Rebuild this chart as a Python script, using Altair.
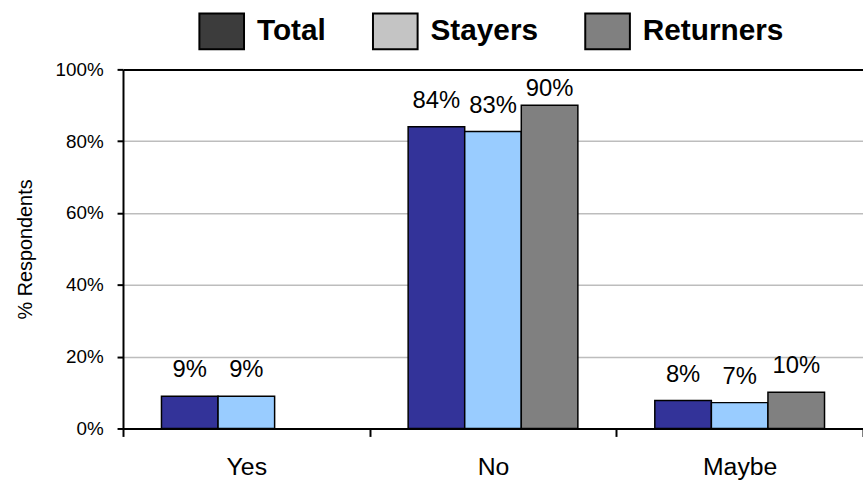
import altair as alt
import pandas as pd

categories = ["Yes", "No", "Maybe"]
series_names = ["Total", "Stayers", "Returners"]
total = [9.0, 84.0, 7.8]
stayers = [9.0, 82.7, 7.2]
returners = [None, 90.0, 10.1]
bar_colors = ["#333399", "#99CCFF", "#808080"]
legend_colors = ["#3C3C3C", "#C4C4C4", "#808080"]
y_ticks = [0, 0.2, 0.4, 0.6, 0.8, 1.0]

FONT = "Liberation Sans"

rows = []
for s, vals in zip(series_names, [total, stayers, returners]):
    for c, v in zip(categories, vals):
        if v is not None:
            rows.append({"answer": c, "series": s, "value": v})
df = pd.DataFrame(rows)

base = alt.Chart(df).transform_calculate(
    pct="datum.value / 100",
    label="format(datum.value, '.0f') + '%'",
)

x_enc = alt.X(
    "answer:N",
    sort=categories,
    scale=alt.Scale(paddingInner=0, paddingOuter=0),
    axis=alt.Axis(
        title=None,
        tickBand="extent",
        labelFontSize=25,
        labelFont=FONT,
        labelColor="black",
        labelPadding=18,
        labelAngle=0,
        tickSize=8,
        tickColor="black",
        tickWidth=2,
        domainColor="black",
        domainWidth=2,
        grid=False,
    ),
)
y_enc = alt.Y(
    "pct:Q",
    scale=alt.Scale(domain=[0, 1]),
    axis=alt.Axis(
        values=y_ticks,
        format="%",
        title="% Respondents",
        titleFont=FONT,
        titleFontSize=20,
        titleFontWeight="normal",
        titleColor="black",
        titlePadding=20,
        labelFont=FONT,
        labelFontSize=19,
        labelColor="black",
        labelPadding=14,
        tickSize=6,
        tickColor="black",
        tickWidth=2,
        domainColor="black",
        domainWidth=2,
        grid=True,
        gridColor={"condition": {"test": "datum.value === 1", "value": "black"}, "value": "#bdbdbd"},
        gridWidth={"condition": {"test": "datum.value === 1", "value": 2}, "value": 1.5},
    ),
)
xoff = alt.XOffset(
    "series:N", sort=series_names, scale=alt.Scale(domain=series_names, paddingInner=0, paddingOuter=0.68)
)

bars = base.mark_bar(stroke="black", strokeWidth=1.5).encode(
    x=x_enc,
    y=y_enc,
    xOffset=xoff,
    color=alt.Color("series:N", scale=alt.Scale(domain=series_names, range=bar_colors), legend=None),
)

labels_main = base.transform_filter("datum.value < 88").mark_text(
    baseline="alphabetic", dy=-19, fontSize=24, font=FONT, color="black"
).encode(x=alt.X("answer:N", sort=categories), y="pct:Q", xOffset=xoff, text="label:N")

labels_top = base.transform_filter("datum.value >= 88").mark_text(
    baseline="alphabetic", dy=-9, fontSize=24, font=FONT, color="black"
).encode(x=alt.X("answer:N", sort=categories), y="pct:Q", xOffset=xoff, text="label:N")

legend_layer = alt.Chart(pd.DataFrame({"series": series_names})).mark_square(
    size=0
).encode(
    color=alt.Color(
        "series:N",
        sort=series_names,
        scale=alt.Scale(domain=series_names, range=legend_colors),
        legend=alt.Legend(
            title=None,
            orient="none",
            direction="horizontal",
            legendX=76,
            legendY=-62,
            symbolType="M-1,-0.8H1V0.8H-1Z",
            symbolSize=2025,
            symbolStrokeColor="black",
            symbolStrokeWidth=2,
            symbolOpacity=1,
            labelFont=FONT,
            labelFontSize=30,
            labelFontWeight="bold",
            labelColor="black",
            labelOffset=12,
            columnPadding=43,
            labelLimit=400,
        ),
    )
)

chart = (
    alt.layer(bars, labels_main, labels_top, legend_layer)
    .resolve_scale(color="independent")
    .properties(
        width=746,
        height=362,
        autosize=alt.AutoSizeParams(type="none"),
        padding={"left": 124, "top": 68, "right": 0, "bottom": 51},
        background="white",
    )
    .configure_view(stroke=None)
)

chart.save("out.html", embed_options={"renderer": "svg", "actions": False})
